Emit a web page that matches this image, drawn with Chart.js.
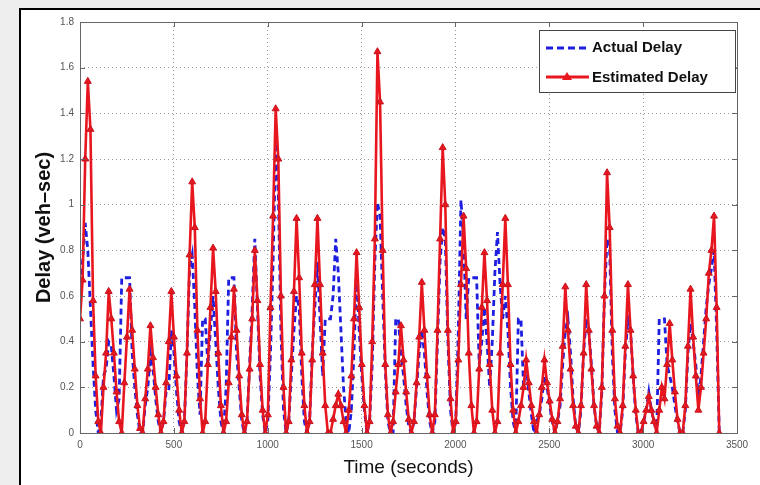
<!DOCTYPE html>
<html><head><meta charset="utf-8">
<script src="https://cdn.jsdelivr.net/npm/chart.js@4.4.1/dist/chart.umd.min.js"></script>
<style>html,body{margin:0;padding:0;background:#fff;}#wrap{position:relative;width:760px;height:485px;}canvas{display:block}</style>
</head><body><div id="wrap"><canvas id="c" width="760" height="485"></canvas></div>
<script>
const sampleStep = 13.9; // seconds between samples
const estimatedDelay = [
0.50,0.67,1.20,1.54,1.33,0.58,0.25,0.05,
0.00,0.20,0.35,0.62,0.50,0.35,0.18,0.05,
0.00,0.22,0.42,0.63,0.45,0.28,0.12,0.02,
0.00,0.15,0.28,0.47,0.33,0.20,0.08,0.00,
0.05,0.22,0.40,0.62,0.42,0.25,0.10,0.00,
0.05,0.35,0.78,1.10,0.90,0.45,0.15,0.00,
0.05,0.30,0.55,0.81,0.62,0.35,0.12,0.00,
0.05,0.22,0.42,0.63,0.45,0.25,0.08,0.00,
0.05,0.28,0.50,0.80,0.58,0.30,0.10,0.00,
0.08,0.55,0.95,1.42,1.20,0.60,0.20,0.00,
0.05,0.32,0.62,0.94,0.68,0.35,0.12,0.00,
0.05,0.32,0.65,0.94,0.65,0.35,0.12,0.00,
0.00,0.06,0.12,0.17,0.12,0.05,0.00,0.10,
0.25,0.50,0.79,0.55,0.30,0.12,0.00,0.05,
0.40,0.85,1.67,1.45,0.80,0.30,0.08,0.00,
0.05,0.18,0.30,0.47,0.32,0.18,0.06,0.00,
0.05,0.22,0.42,0.66,0.45,0.25,0.08,0.00,
0.08,0.45,0.85,1.25,1.00,0.45,0.15,0.00,
0.05,0.32,0.65,0.95,0.72,0.35,0.12,0.00,
0.05,0.28,0.55,0.79,0.58,0.30,0.10,0.00,
0.05,0.35,0.65,0.94,0.65,0.30,0.10,0.00,
0.05,0.12,0.20,0.32,0.22,0.12,0.05,0.00,
0.08,0.20,0.32,0.22,0.14,0.06,0.00,0.05,
0.15,0.38,0.64,0.45,0.28,0.12,0.03,0.00,
0.12,0.35,0.65,0.45,0.28,0.12,0.03,0.00,
0.20,0.60,1.14,0.90,0.45,0.15,0.03,0.00,
0.12,0.38,0.65,0.45,0.25,0.10,0.00,0.00,
0.05,0.10,0.16,0.10,0.05,0.00,0.10,0.20,
0.15,0.30,0.48,0.32,0.18,0.06,0.00,0.00,
0.12,0.38,0.63,0.42,0.25,0.10,0.20,0.35,
0.50,0.70,0.80,0.95,0.55,0.00
];
const actualDelay = [
0.65,0.75,0.92,0.80,0.55,0.30,0.10,0.00,
0.05,0.25,0.28,0.40,0.38,0.25,0.10,0.15,
0.68,0.68,0.68,0.68,0.35,0.20,0.08,0.00,
0.00,0.12,0.20,0.35,0.28,0.15,0.05,0.00,
0.05,0.18,0.18,0.45,0.35,0.18,0.05,0.00,
0.05,0.35,0.72,0.78,0.55,0.25,0.08,0.50,
0.50,0.30,0.45,0.60,0.40,0.20,0.05,0.00,
0.20,0.68,0.68,0.68,0.35,0.20,0.05,0.00,
0.05,0.30,0.55,0.85,0.55,0.25,0.08,0.00,
0.05,0.35,0.75,1.27,1.05,0.45,0.10,0.00,
0.05,0.25,0.45,0.60,0.55,0.25,0.05,0.00,
0.05,0.35,0.55,0.75,0.50,0.25,0.50,0.50,
0.50,0.60,0.85,0.70,0.45,0.20,0.05,0.00,
0.10,0.35,0.70,0.45,0.25,0.10,0.00,0.05,
0.30,0.75,1.01,0.95,0.60,0.28,0.05,0.00,
0.00,0.50,0.50,0.35,0.25,0.12,0.03,0.00,
0.05,0.20,0.35,0.45,0.35,0.18,0.05,0.00,
0.05,0.40,0.75,0.90,0.85,0.40,0.10,0.00,
0.05,0.45,1.02,0.85,0.50,0.68,0.68,0.68,
0.68,0.30,0.40,0.55,0.40,0.20,0.40,0.70,
0.88,0.65,0.50,0.60,0.45,0.20,0.05,0.00,
0.50,0.50,0.20,0.30,0.18,0.08,0.00,0.05,
0.08,0.15,0.25,0.20,0.12,0.05,0.00,0.05,
0.12,0.30,0.45,0.50,0.35,0.15,0.03,0.00,
0.10,0.35,0.50,0.45,0.30,0.12,0.03,0.00,
0.18,0.60,0.85,0.80,0.35,0.10,0.00,0.00,
0.10,0.35,0.50,0.45,0.25,0.08,0.00,0.00,
0.05,0.10,0.18,0.10,0.05,0.00,0.50,0.50,
0.50,0.30,0.25,0.20,0.12,0.05,0.00,0.00,
0.10,0.35,0.48,0.40,0.30,0.15,0.25,0.40,
0.55,0.65,0.72,0.80,0.45,0.00
];
const times = estimatedDelay.map((_, i) => +(i * sampleStep).toFixed(1));
const xTicks = [0, 500, 1000, 1500, 2000, 2500, 3000, 3500];
const yTicks = [0, 0.2, 0.4, 0.6, 0.8, 1, 1.2, 1.4, 1.6, 1.8];
const seriesNames = ['Actual Delay', 'Estimated Delay'];
const xTitle = 'Time (seconds)';
const yTitle = 'Delay (veh\u2013sec)';

const BLUE = 'rgb(30,30,225)';
const RED = 'rgb(232,22,30)';

const framePlugin = {
  id: 'frame',
  beforeDraw(chart) {
    const ctx = chart.ctx;
    ctx.save();
    ctx.fillStyle = '#eeeeee';
    ctx.fillRect(0, 0, chart.width, chart.height);
    ctx.fillStyle = '#ffffff';
    ctx.fillRect(20, 9, chart.width - 20, chart.height - 9);
    ctx.strokeStyle = '#000';
    ctx.lineWidth = 2;
    ctx.beginPath();
    ctx.moveTo(20, chart.height); ctx.lineTo(20, 9); ctx.lineTo(chart.width, 9);
    ctx.stroke();
    ctx.restore();
  },
  afterDatasetsDraw(chart) {
    const ctx = chart.ctx, a = chart.chartArea;
    const xs = chart.scales.x, ys = chart.scales.y;
    ctx.save();
    ctx.strokeStyle = '#666';
    ctx.lineWidth = 1;
    ctx.strokeRect(Math.round(a.left) + 0.5, Math.round(a.top) + 0.5, Math.round(a.right - a.left), Math.round(a.bottom - a.top));
    ctx.beginPath();
    xTicks.forEach(v => {
      const px = Math.round(xs.getPixelForValue(v)) + 0.5;
      ctx.moveTo(px, a.bottom); ctx.lineTo(px, a.bottom - 5);
      ctx.moveTo(px, a.top); ctx.lineTo(px, a.top + 5);
    });
    yTicks.forEach(v => {
      const py = Math.round(ys.getPixelForValue(v)) + 0.5;
      ctx.moveTo(a.left, py); ctx.lineTo(a.left + 5, py);
      ctx.moveTo(a.right, py); ctx.lineTo(a.right - 5, py);
    });
    ctx.stroke();
    // legend
    const lx = 539, ly = 30, lw = 196, lh = 62;
    ctx.fillStyle = '#fff';
    ctx.fillRect(lx, ly, lw, lh);
    ctx.strokeStyle = '#444';
    ctx.strokeRect(lx + 0.5, ly + 0.5, lw, lh);
    ctx.lineWidth = 3;
    ctx.strokeStyle = BLUE;
    ctx.setLineDash([7, 4]);
    ctx.beginPath(); ctx.moveTo(546, 48); ctx.lineTo(589, 48); ctx.stroke();
    ctx.setLineDash([]);
    ctx.strokeStyle = RED;
    ctx.beginPath(); ctx.moveTo(546, 77); ctx.lineTo(589, 77); ctx.stroke();
    ctx.fillStyle = RED;
    ctx.beginPath(); ctx.moveTo(567, 72); ctx.lineTo(572, 80); ctx.lineTo(562, 80); ctx.closePath(); ctx.fill();
    ctx.fillStyle = '#111';
    ctx.font = 'bold 15px "Liberation Sans", Arial, sans-serif';
    ctx.textBaseline = 'middle';
    ctx.textAlign = 'left';
    ctx.fillText(seriesNames[0], 592, 48);
    ctx.fillText(seriesNames[1], 592, 78);
    ctx.restore();
  }
};

new Chart(document.getElementById('c'), {
  type: 'line',
  data: {
    labels: times,
    datasets: [
      {
        label: seriesNames[0], data: actualDelay, order: 1,
        borderColor: BLUE, borderWidth: 2.8, borderDash: [6, 4],
        pointRadius: 0, fill: false, tension: 0
      },
      {
        label: seriesNames[1], data: estimatedDelay, order: 0,
        borderColor: RED, borderWidth: 2.6, backgroundColor: RED,
        pointStyle: 'triangle', pointRadius: 4, pointBorderWidth: 1,
        pointBackgroundColor: RED, pointBorderColor: 'rgb(200,20,30)', fill: false, tension: 0
      }
    ]
  },
  options: {
    responsive: false,
    animation: false,
    devicePixelRatio: 1,
    layout: { padding: { left: 20, right: 23, top: 22, bottom: 0 } },
    plugins: { legend: { display: false }, tooltip: { enabled: false } },
    scales: {
      x: {
        type: 'linear', min: 0, max: 3500,
        afterBuildTicks: s => { s.ticks = xTicks.map(v => ({ value: v })); },
        afterFit: s => { s.height = 52; },
        ticks: { color: '#555', font: { size: 10, family: '"Liberation Sans", Arial' }, padding: 6, maxRotation: 0, callback: v => String(v) },
        grid: { color: '#9a9a9a', lineWidth: 1, drawTicks: false },
        border: { display: false, dash: [1, 3] },
        title: { display: true, text: xTitle, color: '#111', font: { size: 19, family: '"Liberation Sans", Arial' }, padding: { top: 0, bottom: 6 } }
      },
      y: {
        min: 0, max: 1.8,
        afterBuildTicks: s => { s.ticks = yTicks.map(v => ({ value: v })); },
        afterFit: s => { s.width = 60; },
        ticks: { color: '#555', font: { size: 10, family: '"Liberation Sans", Arial' }, padding: 6, callback: v => String(+(+v).toFixed(1)) },
        grid: { color: '#9a9a9a', lineWidth: 1, drawTicks: false },
        border: { display: false, dash: [1, 3] },
        title: { display: true, text: yTitle, color: '#111', font: { size: 20, weight: 'bold', family: '"Liberation Sans", Arial' }, padding: { top: 12, bottom: 0 } }
      }
    }
  },
  plugins: [framePlugin]
});
</script></body></html>
